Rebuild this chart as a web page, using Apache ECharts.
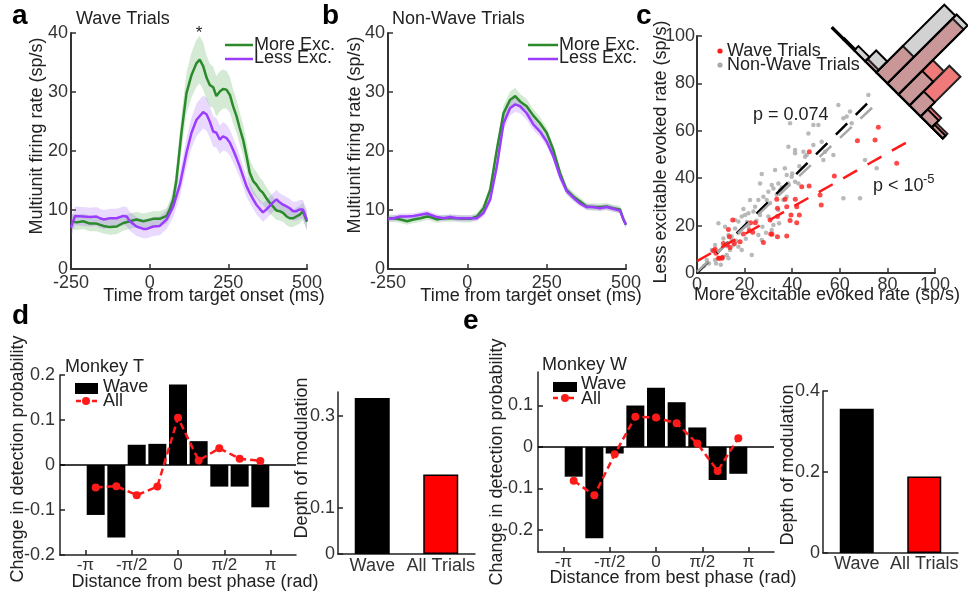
<!DOCTYPE html>
<html><head><meta charset="utf-8">
<script src="https://cdn.jsdelivr.net/npm/echarts@6/dist/echarts.min.js"></script>
<style>html,body{margin:0;padding:0;background:#fff}#c{width:968px;height:598px}</style>
</head><body><div id="c"></div>
<script>
// ---------- Panel a (Wave trials) ----------
const timeA_more = [-250,-232,-211,-190,-169,-147,-126,-105,-84,-63,-42,-20,11,32,54,64,75,85,101,117,133,149,159,170,181,191,202,212,223,233,244,255,265,276,286,297,308,318,329,339,350,360,371,382,392,403,413,424,435,445,456,466,477,487,500];
const rateA_more = [8.1,7.9,8.1,7.7,7.7,7.3,7.1,7.2,7.8,8.1,8.4,8.1,8.5,8.5,9.0,10.1,11.8,15.1,23.1,29.8,32.9,34.9,35.5,34.4,32.4,31.2,30.8,29.3,30.1,30.5,30.4,29.5,27.6,25.9,23.9,21.9,19.1,16.3,14.9,14.3,13.4,12.9,12.0,11.2,10.6,9.9,9.8,9.5,8.9,8.6,8.6,8.9,9.2,9.8,8.0];
const semA_more = [1.3,1.3,1.3,1.3,1.3,1.3,1.3,1.3,1.3,1.3,1.3,1.3,1.3,1.3,1.3,1.5,1.8,2.2,3.0,3.5,3.8,4.0,4.0,4.0,3.8,3.6,3.5,3.4,3.4,3.3,3.2,3.0,2.9,2.8,2.7,2.6,2.5,2.4,2.3,2.2,2.1,2.0,1.9,1.8,1.7,1.6,1.6,1.5,1.5,1.5,1.5,1.5,1.5,1.5,1.5];
const timeA_less = [-250,-237,-211,-190,-169,-158,-147,-126,-105,-84,-73,-63,-42,-20,-9,11,32,54,75,96,117,133,149,170,181,191,202,212,223,233,244,255,265,276,286,297,308,318,329,339,350,360,371,382,392,403,413,424,435,445,456,466,477,487,500];
const rateA_less = [7.0,9.0,8.9,8.8,8.9,8.6,8.4,8.6,8.6,9.0,8.9,8.1,7.2,6.8,6.8,7.2,7.3,8.4,10.6,14.3,19.7,23.1,25.3,26.6,26.2,25.0,23.3,23.1,21.9,22.5,22.2,21.4,20.2,18.8,17.4,15.7,14.0,12.9,11.8,10.9,10.2,9.6,10.1,10.7,11.3,11.8,11.3,10.9,10.6,10.3,9.8,9.8,10.1,10.1,8.3];
const semA_less = [1.6,1.6,1.6,1.6,1.6,1.6,1.6,1.6,1.6,1.6,1.6,1.6,1.6,1.6,1.6,1.6,1.6,1.6,1.8,2.1,2.4,2.6,2.8,2.8,2.8,2.7,2.6,2.5,2.4,2.4,2.3,2.2,2.1,2.0,1.9,1.8,1.8,1.7,1.6,1.6,1.6,1.6,1.6,1.6,1.6,1.6,1.6,1.6,1.6,1.6,1.6,1.6,1.6,1.6,1.6];

// ---------- Panel b (Non-wave trials) ----------
const timeB = [-250,-232,-211,-190,-169,-148,-127,-117,-96,-75,-54,-33,-12,9,30,51,72,93,114,135,151,166,187,208,229,250,271,292,313,334,355,376,397,418,439,460,481,492,500];
const rateB_more = [8.6,8.6,8.4,8.1,8.4,8.6,8.9,8.8,8.4,8.6,8.6,8.6,8.5,8.5,8.9,10.3,13.4,20.2,26.4,28.7,29.3,28.4,27.6,26.0,24.7,23.1,20.2,16.3,13.4,12.3,11.5,10.6,10.5,10.5,10.6,10.3,10.1,8.4,7.5];
const semB_more = [0.6,0.6,0.6,0.6,0.6,0.6,0.6,0.6,0.6,0.6,0.6,0.6,0.6,0.6,0.6,0.7,0.9,1.1,1.3,1.4,1.4,1.3,1.2,1.1,1.0,0.9,0.8,0.8,0.7,0.7,0.6,0.6,0.6,0.6,0.6,0.6,0.6,0.6,0.6];
const rateB_less = [8.5,8.6,8.9,8.9,9.0,9.2,9.4,9.2,8.8,8.6,8.8,8.6,8.6,8.6,8.6,9.5,11.8,17.4,24.7,27.3,27.9,27.6,26.4,24.5,23.3,21.6,19.1,15.7,13.2,12.1,11.1,10.5,10.5,10.3,10.5,10.2,9.9,8.4,7.5];
const semB_less = [0.5,0.5,0.5,0.5,0.5,0.5,0.5,0.5,0.5,0.5,0.5,0.5,0.5,0.5,0.5,0.6,0.8,1.0,1.2,1.3,1.3,1.2,1.1,1.0,0.9,0.8,0.7,0.7,0.6,0.6,0.5,0.5,0.5,0.5,0.5,0.5,0.5,0.5,0.5];

// ---------- Panel c (scatter) ----------
const wavePts = [[7.6,10.0],[6.9,9.4],[8.0,8.3],[9.0,6.2],[9.4,6.2],[10.4,6.2],[10.6,6.5],[11.1,12.5],[12.7,11.8],[13.9,10.8],[13.2,18.4],[13.6,15.3],[15.0,22.4],[15.7,12.5],[18.1,13.2],[19.5,16.5],[22.0,17.9],[22.5,21.2],[24.5,21.2],[23.4,17.2],[27.9,12.9],[30.7,22.4],[31.0,16.5],[31.5,16.3],[33.5,31.1],[33.8,27.3],[33.8,23.8],[33.8,15.3],[37.0,31.1],[37.7,15.6],[37.7,28.0],[39.1,22.1],[39.5,24.5],[41.3,31.1],[41.9,21.2],[41.9,28.0],[43.0,24.5],[44.0,36.4],[47.1,36.7],[47.2,51.2],[51.7,32.9],[52.2,28.7],[57.7,40.9],[67.4,55.8],[74.8,56.1],[76.2,61.5],[83.9,46.3]];
const nonWavePts = [[41.2,50.5],[44.7,51.2],[45.4,49.1],[32.8,43.5],[36.9,44.2],[37.7,41.4],[39.8,40.6],[41.2,38.5],[42.6,37.8],[27.2,41.8],[26.5,37.8],[31.4,37.1],[32.1,35.7],[34.2,37.8],[35.6,36.1],[30.0,34.3],[27.9,32.2],[29.3,30.8],[25.8,30.8],[22.3,30.8],[24.4,28.0],[21.6,25.2],[20.2,24.5],[18.8,23.8],[17.4,21.7],[16.0,22.4],[9.0,21.0],[11.8,19.5],[13.2,16.0],[11.1,14.6],[14.6,13.9],[15.3,11.8],[13.9,9.7],[12.5,7.6],[11.1,6.9],[13.2,6.2],[17.4,11.1],[18.8,9.7],[23.0,7.6],[27.2,13.9],[25.8,16.0],[31.4,18.1],[32.1,20.3],[30.0,23.8],[34.2,26.6],[36.3,30.8],[37.7,32.2],[7.6,11.8],[6.2,9.7],[4.1,5.5],[7.6,5.5],[21.6,19.5],[16.0,18.8],
  [72.0,75.1],[59.4,70.9],[64.3,68.1],[62.9,66.0],[65.0,63.2],[61.5,65.3],[39.1,63.2],[51.0,62.4],[46.8,58.9],[52.4,55.4],[48.9,54.0],[41.2,51.9],[46.1,49.8],[53.8,51.2],[53.1,47.7],[57.3,49.8],[70.6,47.7],[75.5,44.2],[61.5,31.5],[68.5,31.5],[38.4,53.3],[48.9,62.4],
  [3,3],[5,4],[8,4],[10,3.5],[19.5,27.0],[23.7,26.0],[26.5,24.5],[28.6,28.0],[30.7,29.5],[33.5,33.0],[35.0,35.0],[38.4,37.8],[40.0,42.0],[43.0,45.0],[25.0,22.0],[21.0,21.5],[17.5,17.0],[14.5,15.5],[12.0,11.5],[16.5,13.5],[20.5,14.5],[27.5,19.5],[29.0,17.0],[34.5,21.0]];
const unityLine = [[0,0],[74,74]];
const nonWaveFit = [[0,0.5],[76,72]];
const waveFit = [[0,5],[91,56.8]];
// diagonal histogram of (less - more) differences
const histDiff = [45,35,25,15,5,-5,-15,-25,-35,-45];
const histNonWave = [0.004,0.006,0.021,0.054,0.336,0.342,0.117,0.070,0.035,0.014];
const histWave = [0,0,0,0.012,0.131,0.322,0.170,0.197,0.047,0.023];

// ---------- Panels d, e ----------
const phaseCenters = [-2.79,-2.09,-1.40,-0.70,0,0.70,1.40,2.09,2.79];
const phaseTicks = [-3.1416,-1.5708,0,1.5708,3.1416];
const phaseTickLabels = ['-π','-π/2','0','π/2','π'];
const waveT = [-0.111,-0.161,0.045,0.047,0.179,0.053,-0.048,-0.048,-0.094];
const allT = [-0.050,-0.047,-0.067,-0.048,0.105,0.010,0.037,0.014,0.009];
const waveW = [-0.072,-0.221,-0.016,0.100,0.143,0.108,0.047,-0.080,-0.065];
const allW = [-0.082,-0.117,-0.018,0.073,0.071,0.057,0.008,-0.058,0.021];
const depthCats = ['Wave','All Trials'];
const depthT = [0.339,0.173];
const depthW = [0.356,0.189];

const FONT = "'Liberation Sans', Arial, Helvetica, sans-serif";
const GREEN = '#2b8a2b', PURPLE = '#9b3dff';
const chart = echarts.init(document.getElementById('c'), null, {renderer:'canvas'});

function axis(grid, o){
  const lc = o.lc || '#333';
  const a = {
    type: o.type || 'value', gridIndex: grid, min: o.min, max: o.max,
    splitLine:{show:false},
    axisLine:{show:true, onZero:false, lineStyle:{color:lc, width:o.lw||2}},
    axisTick:{show: o.tick !== false, inside:true, length:5, lineStyle:{color:lc, width:1.5}},
    axisLabel:{color:'#333', fontSize:o.fs||18, margin:o.margin==null?3:o.margin, fontFamily:FONT}
  };
  if (o.interval != null) a.interval = o.interval;
  if (o.data) a.data = o.data;
  if (o.custom) { a.axisLabel.customValues = o.custom; a.axisTick.customValues = o.custom; }
  if (o.fmt) a.axisLabel.formatter = o.fmt;
  if (o.type === 'category') { a.axisLabel.interval = 0; a.axisTick.show = false; }
  return a;
}
const phaseFmt = v => { const i = phaseTicks.indexOf(v); return i >= 0 ? phaseTickLabels[i] : ''; };

const grid = [
  {left:71, top:33, width:236, height:236},
  {left:388, top:33, width:238, height:236},
  {left:697, top:36, width:238, height:237},
  {left:60, top:375, width:236, height:180},
  {left:338, top:392, width:137, height:162},
  {left:538, top:372, width:236, height:180},
  {left:823, top:391, width:135, height:162}
];
const xAxis = [
  axis(0,{min:-250,max:500,interval:250,margin:5}),
  axis(1,{min:-250,max:500,interval:250,margin:5}),
  axis(2,{min:0,max:100,interval:20,margin:3}),
  axis(3,{min:-4,max:4,custom:phaseTicks,fmt:phaseFmt,fs:17,margin:2,lc:'#222',lw:1.5}),
  axis(4,{type:'category',data:depthCats,lc:'#222',lw:1.5,margin:3}),
  axis(5,{min:-4,max:4,custom:phaseTicks,fmt:phaseFmt,fs:17,margin:2,lc:'#222',lw:1.5}),
  axis(6,{type:'category',data:depthCats,lc:'#222',lw:1.5,margin:2})
];
const yAxis = [
  axis(0,{min:0,max:40,interval:10}),
  axis(1,{min:0,max:40,interval:10}),
  axis(2,{min:0,max:100,interval:20,margin:2}),
  axis(3,{min:-0.2,max:0.2,interval:0.1,margin:5,lc:'#222',lw:1.5}),
  axis(4,{min:0,max:0.352,custom:[0,0.1,0.3],lc:'#222',lw:1.5}),
  axis(5,{min:-0.254,max:0.181,custom:[-0.2,-0.1,0,0.1],margin:5,lc:'#222',lw:1.5}),
  axis(6,{min:0,max:0.4,interval:0.2,lc:'#222',lw:1.5})
];

const series = [];
// shaded SEM band: one polygon drawn through the axis scale (api.coord)
function band(gi, t, v, s, color){
  series.push({type:'custom', xAxisIndex:gi, yAxisIndex:gi, silent:true, z:2, clip:true,
    data: t.map((x,i)=>[x, v[i]-s[i], v[i]+s[i]]),
    renderItem: function(params, api){
      if (params.dataIndex !== 0) return {type:'group', children:[]};
      const up = [], lo = [];
      for (let i = 0; i < t.length; i++) {
        up.push(api.coord([t[i], v[i]+s[i]]));
        lo.push(api.coord([t[i], v[i]-s[i]]));
      }
      return {type:'polygon', shape:{points: up.concat(lo.reverse())}, style:{fill:color}};
    }
  });
}
function curve(gi, t, v, color, name){
  series.push({type:'line', name, xAxisIndex:gi, yAxisIndex:gi, symbol:'none', z:4,
    lineStyle:{color, width:2.5}, itemStyle:{color}, data:t.map((x,i)=>[x, v[i]])});
}
band(0, timeA_more, rateA_more, semA_more, 'rgba(60,160,60,0.22)');
band(0, timeA_less, rateA_less, semA_less, 'rgba(160,80,255,0.22)');
curve(0, timeA_more, rateA_more, GREEN, 'More Exc.');
curve(0, timeA_less, rateA_less, PURPLE, 'Less Exc.');
band(1, timeB, rateB_more, semB_more, 'rgba(60,160,60,0.22)');
band(1, timeB, rateB_less, semB_less, 'rgba(160,80,255,0.22)');
curve(1, timeB, rateB_more, GREEN, 'More Exc.');
curve(1, timeB, rateB_less, PURPLE, 'Less Exc.');

// panel c
series.push({type:'scatter', name:'Non-Wave Trials', xAxisIndex:2, yAxisIndex:2, symbolSize:4.5, itemStyle:{color:'#a8a8a8'}, data:nonWavePts});
series.push({type:'scatter', name:'Wave Trials', xAxisIndex:2, yAxisIndex:2, symbolSize:5, itemStyle:{color:'#ff1a1a'}, data:wavePts});
[[unityLine,'#000'],[nonWaveFit,'#a8a8a8'],[waveFit,'#ff1a1a']].forEach(([d,c])=>{
  series.push({type:'line', xAxisIndex:2, yAxisIndex:2, symbol:'none', z:5, silent:true,
    lineStyle:{color:c, width:2.5, type:[16,12]}, data:d});
});
series.push({
  type:'custom', xAxisIndex:2, yAxisIndex:2, clip:false, silent:true, z:6,
  data: histDiff.map((d,i)=>[d, histNonWave[i], histWave[i]]),
  renderItem: function(params, api){
    const dc = api.value(0)*0.93, g = api.value(1)*85, r = api.value(2)*85, hw = 4.65;
    const d1 = dc-hw, d2 = dc+hw;
    const P = (dd,s)=>api.coord([(160-dd)/2+s, (160+dd)/2+s]);
    const R = (s0,s1)=>[P(d1,s0),P(d2,s0),P(d2,s1),P(d1,s1)];
    const ch = [];
    const m = Math.min(g,r);
    if (m > 0) ch.push({type:'polygon', shape:{points:R(0,m)}, style:{fill:'#c99797'}, z2:1});
    if (g > r) ch.push({type:'polygon', shape:{points:R(r,g)}, style:{fill:'#d2d2d2'}, z2:1});
    else if (r > g) ch.push({type:'polygon', shape:{points:R(g,r)}, style:{fill:'#f07a7a'}, z2:1});
    if (r > 0) ch.push({type:'polygon', shape:{points:R(0,r)}, style:{fill:'none', stroke:'#222', lineWidth:2}, z2:5});
    if (g > 0) ch.push({type:'polygon', shape:{points:R(0,g)}, style:{fill:'none', stroke:'#000', lineWidth:2}, z2:6});
    const a = P(d1-0.5,0), b = P(d2+0.5,0);
    ch.push({type:'line', shape:{x1:a[0],y1:a[1],x2:b[0],y2:b[1]}, style:{stroke:'#000', lineWidth:2}, z2:6});
    return {type:'group', children:ch};
  }
});

// panels d, e
function phasePanel(gi, wave, all){
  series.push({type:'bar', name:'Wave', xAxisIndex:gi, yAxisIndex:gi, barWidth:18, itemStyle:{color:'#000'},
    data: phaseCenters.map((x,i)=>[x, wave[i]]),
    markLine:{silent:true, symbol:'none', label:{show:false}, lineStyle:{color:'#000', width:1.5, type:'solid'}, data:[{yAxis:0}]}});
  series.push({type:'line', name:'All', xAxisIndex:gi, yAxisIndex:gi, symbol:'circle', symbolSize:8, z:5,
    lineStyle:{color:'#ff1a1a', width:2.5, type:[7,4]}, itemStyle:{color:'#ff1a1a'},
    data: phaseCenters.map((x,i)=>[x, all[i]])});
}
phasePanel(3, waveT, allT);
phasePanel(5, waveW, allW);
const depthStyles = [{color:'#000'}, {color:'#ff0000', borderColor:'#000', borderWidth:1.5}];
series.push({type:'bar', xAxisIndex:4, yAxisIndex:4, barWidth:35, data: depthT.map((v,i)=>({value:v, itemStyle:depthStyles[i]}))});
series.push({type:'bar', xAxisIndex:6, yAxisIndex:6, barWidth:34, data: depthW.map((v,i)=>({value:v, itemStyle:depthStyles[i]}))});

// texts
function T(text, x, y, o){
  o = o || {};
  const el = {type:'text', x, y, z:100, silent:true, style:{
    text, fill:o.color||'#222', font:(o.bold?'bold ':'')+(o.size||18)+'px '+FONT,
    textAlign:o.align||'left', textVerticalAlign:'middle', align:o.align||'left', verticalAlign:'middle'}};
  if (o.rot) el.rotation = Math.PI/2;
  return el;
}
function L(x1,y1,x2,y2,color,dash){ return {type:'line', z:100, silent:true, shape:{x1,y1,x2,y2}, style:{stroke:color, lineWidth:2.5, lineDash:dash||null}}; }
function C(cx,cy,r,color){ return {type:'circle', z:101, silent:true, shape:{cx,cy,r}, style:{fill:color}}; }
function Rc(x,y,w,h,color){ return {type:'rect', z:100, silent:true, shape:{x,y,width:w,height:h}, style:{fill:color}}; }

const graphic = [
  T('a', 12, 16, {bold:true, size:28, color:'#000'}),
  T('b', 322, 16, {bold:true, size:28, color:'#000'}),
  T('c', 636, 16, {bold:true, size:28, color:'#000'}),
  T('d', 12, 316, {bold:true, size:28, color:'#000'}),
  T('e', 463, 321, {bold:true, size:28, color:'#000'}),
  T('Wave Trials', 76, 19), T('Non-Wave Trials', 392, 19),
  T('*', 199, 33, {size:17, align:'center'}),
  L(225,45,253,45,GREEN), T('More Exc.', 254, 45),
  L(225,59,253,59,PURPLE), T('Less Exc.', 254, 58),
  L(528,45,558,45,GREEN), T('More Exc.', 559, 45),
  L(528,59,558,59,PURPLE), T('Less Exc.', 559, 58),
  T('Multiunit firing rate (sp/s)', 37, 136, {rot:true, align:'center'}),
  T('Multiunit firing rate (sp/s)', 355, 135, {rot:true, align:'center'}),
  T('Time from target onset (ms)', 214, 296, {align:'center'}),
  T('Time from target onset (ms)', 531, 296, {align:'center'}),
  C(720,51,2.6,'#ff1a1a'), T('Wave Trials', 727, 51),
  C(720,65,2.6,'#a8a8a8'), T('Non-Wave Trials', 727, 65),
  T('p = 0.074', 753, 115),
  T('p < 10', 873, 186), T('-5', 923, 179, {size:13}),
  T('Less excitable evoked rate (sp/s)', 661, 152, {rot:true, align:'center'}),
  T('More excitable evoked rate (sp/s)', 827, 295, {align:'center'}),
  T('Monkey T', 65, 367),
  Rc(75,383,23,11,'#000'), T('Wave', 103, 387),
  L(76,401,97,401,'#ff1a1a',[5,3]), C(86,401,4,'#ff1a1a'), T('All', 103, 401),
  T('Change in detection probability', 18, 459, {rot:true, align:'center'}),
  T('Distance from best phase (rad)', 195, 582, {align:'center'}),
  T('Depth of modulation', 302, 458, {rot:true, align:'center'}),
  T('Monkey W', 542, 365),
  Rc(553,382,24,10,'#000'), T('Wave', 581, 384),
  L(553,398,576,398,'#ff1a1a',[5,3]), C(565,398,4,'#ff1a1a'), T('All', 581, 399),
  T('Change in detection probability', 497, 462, {rot:true, align:'center'}),
  T('Distance from best phase (rad)', 673, 578, {align:'center'}),
  T('Depth of modulation', 788, 465, {rot:true, align:'center'})
];

chart.setOption({
  animation:false,
  backgroundColor:'#fff',
  textStyle:{fontFamily:FONT},
  grid, xAxis, yAxis, series, graphic
});
</script></body></html>
